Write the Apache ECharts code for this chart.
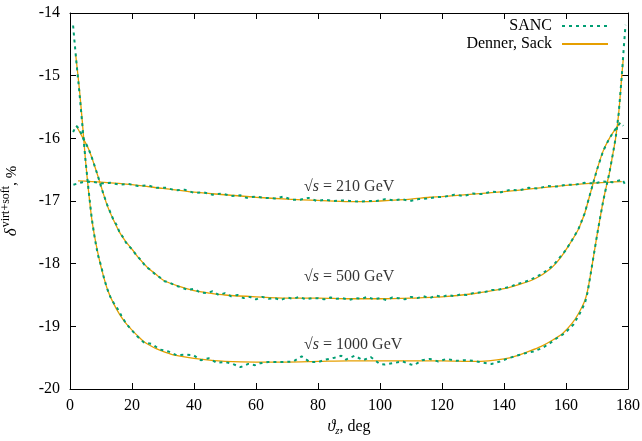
<!DOCTYPE html>
<html>
<head>
<meta charset="utf-8">
<script src="https://cdn.jsdelivr.net/npm/echarts@6/dist/echarts.min.js"></script>
<style>
  html, body { margin: 0; padding: 0; background: #fff; }
  #chart { width: 642px; height: 441px; }
</style>
</head>
<body>
<div id="chart"></div>
<script>
// angle (deg), delta (%) pairs
const denner210 = [[2.6,-16.68],[10,-16.7],[20,-16.74],[30,-16.8],[40,-16.86],[50,-16.9],[60,-16.94],[70,-16.97],[80,-16.99],[90,-17.01],[95,-17.01],[100,-17.0],[110,-16.97],[116,-16.94],[120,-16.93],[130,-16.89],[140,-16.85],[150,-16.8],[160,-16.75],[170,-16.71],[178,-16.69]];
const sanc210 = [[1.1,-16.74],[4,-16.7],[7,-16.69],[10,-16.72],[13,-16.71],[16,-16.74],[19,-16.73],[22,-16.76],[25,-16.75],[28,-16.79],[31,-16.79],[34,-16.83],[37,-16.82],[40,-16.87],[43,-16.86],[46,-16.9],[49,-16.88],[52,-16.92],[55,-16.91],[57,-16.95],[59.7,-16.93],[62.9,-16.95],[66.1,-16.96],[68.8,-16.93],[71.5,-16.98],[74.2,-16.98],[76.9,-16.95],[79.6,-17.0],[82.3,-16.98],[84.9,-17.0],[87.6,-16.99],[90.3,-17.0],[93,-17.01],[96.2,-17.0],[98.9,-17.0],[101.6,-16.97],[104.3,-16.99],[107,-16.97],[109.7,-17.0],[112.4,-16.97],[115.1,-16.96],[118,-16.94],[121,-16.93],[124,-16.9],[127,-16.92],[130,-16.88],[133,-16.89],[136,-16.85],[139,-16.86],[142,-16.82],[145,-16.83],[148,-16.79],[151,-16.8],[154,-16.76],[157,-16.77],[160,-16.74],[163,-16.74],[166,-16.71],[169,-16.72],[172,-16.69],[175,-16.7],[178.2,-16.66],[179,-16.73]];
const denner500 = [[2,-15.8],[4,-15.98],[6,-16.17],[8,-16.45],[10,-16.76],[12,-17.07],[14,-17.3],[16,-17.5],[18,-17.65],[20,-17.77],[22,-17.9],[25,-18.06],[28,-18.18],[30,-18.26],[35,-18.36],[40,-18.43],[45,-18.47],[50,-18.5],[60,-18.53],[70,-18.55],[80,-18.55],[90,-18.56],[100,-18.56],[110,-18.55],[120,-18.53],[130,-18.48],[140,-18.4],[145,-18.33],[150,-18.24],[155,-18.08],[158,-17.92],[161,-17.7],[164,-17.45],[166,-17.2],[168,-16.85],[170,-16.5],[172,-16.2],[174,-16.0],[176,-15.85],[177.5,-15.75]];
const sanc500 = [[1,-15.9],[2,-15.8],[3,-15.85],[4,-15.97],[5,-16.07],[6,-16.17],[7,-16.3],[8,-16.45],[9,-16.6],[10,-16.77],[11,-16.92],[12,-17.06],[13,-17.18],[14,-17.3],[15,-17.38],[16,-17.5],[17,-17.57],[18,-17.66],[19,-17.72],[20,-17.77],[21.5,-17.87],[23,-17.95],[24.5,-18.05],[26,-18.1],[27.5,-18.17],[29,-18.22],[30.5,-18.28],[32,-18.3],[34,-18.35],[36,-18.38],[38,-18.42],[40,-18.4],[42,-18.46],[44,-18.47],[46,-18.44],[48,-18.5],[50,-18.47],[52,-18.52],[54,-18.5],[56,-18.55],[58,-18.53],[60,-18.57],[62,-18.53],[64,-18.56],[66,-18.55],[68,-18.58],[70,-18.54],[72,-18.56],[74,-18.53],[76,-18.57],[78,-18.55],[80,-18.55],[82,-18.57],[84,-18.54],[86,-18.56],[88,-18.55],[90,-18.58],[92,-18.55],[94,-18.56],[96,-18.53],[98,-18.57],[100,-18.55],[102,-18.58],[104,-18.54],[106,-18.55],[108,-18.57],[110,-18.53],[112,-18.55],[114,-18.52],[116,-18.55],[118,-18.51],[120,-18.53],[122,-18.5],[124,-18.52],[126,-18.49],[128,-18.5],[130,-18.47],[132,-18.46],[134,-18.45],[136,-18.42],[138,-18.42],[140,-18.39],[142,-18.37],[144,-18.33],[146,-18.3],[148,-18.27],[150,-18.22],[152,-18.17],[154,-18.1],[156,-18.02],[158,-17.9],[160,-17.78],[162,-17.62],[164,-17.45],[166,-17.2],[168,-16.85],[170,-16.5],[172,-16.2],[174,-16.0],[176,-15.85],[177.5,-15.75],[178.5,-15.8]];
const denner1000 = [[1.8,-14.65],[3,-15.2],[4,-15.75],[5,-16.35],[6,-16.85],[7,-17.28],[8,-17.58],[9,-17.83],[10,-18.05],[12,-18.4],[14,-18.63],[16,-18.81],[18,-18.95],[20,-19.06],[22,-19.16],[24,-19.25],[26,-19.31],[28,-19.36],[30,-19.4],[33,-19.45],[36,-19.48],[40,-19.51],[45,-19.54],[50,-19.56],[60,-19.57],[70,-19.57],[80,-19.56],[90,-19.55],[100,-19.55],[110,-19.55],[120,-19.55],[130,-19.56],[135,-19.55],[140,-19.52],[144,-19.47],[148,-19.4],[152,-19.32],[156,-19.21],[159,-19.11],[162,-18.95],[164,-18.8],[166,-18.6],[167,-18.42],[168,-18.15],[169,-17.85],[170,-17.55],[171,-17.27],[172,-17.0],[173,-16.77],[174,-16.55],[175,-16.28],[176,-16.0],[177,-15.6],[178,-15.0],[178.5,-14.72]];
const sanc1000 = [[1,-14.2],[1.5,-14.48],[2,-14.75],[3,-15.25],[4,-15.8],[5,-16.35],[6,-16.83],[7,-17.27],[8,-17.6],[9,-17.86],[10,-18.03],[11,-18.24],[12,-18.4],[13,-18.53],[14,-18.62],[15,-18.69],[16.6,-18.83],[18,-18.95],[19.9,-19.06],[21.7,-19.16],[23.9,-19.26],[26.3,-19.28],[29,-19.37],[31.7,-19.4],[34.4,-19.46],[37.1,-19.45],[39.8,-19.46],[42.2,-19.54],[44.8,-19.51],[47.3,-19.58],[50,-19.57],[52.5,-19.6],[55,-19.65],[57.5,-19.6],[59.7,-19.62],[61.3,-19.59],[64,-19.57],[66.6,-19.57],[69.3,-19.57],[72,-19.56],[74.7,-19.48],[77.4,-19.57],[80,-19.57],[82.6,-19.53],[85.3,-19.5],[87.5,-19.47],[89,-19.53],[91.8,-19.47],[94.5,-19.54],[97,-19.49],[99.9,-19.6],[101.5,-19.61],[104,-19.59],[107.3,-19.56],[110,-19.61],[111,-19.62],[113.6,-19.54],[116.1,-19.52],[118.8,-19.56],[121.5,-19.52],[124.7,-19.55],[127.4,-19.54],[130,-19.55],[133.3,-19.58],[136,-19.6],[138.7,-19.56],[141.4,-19.51],[144,-19.47],[146.8,-19.43],[149.5,-19.4],[152.2,-19.35],[154.8,-19.27],[157,-19.19],[159.6,-19.11],[162.4,-18.97],[164.5,-18.79],[166.1,-18.63],[167,-18.45],[168,-18.15],[169,-17.85],[170,-17.55],[171,-17.27],[172,-17.0],[173,-16.77],[174,-16.55],[175,-16.28],[176,-16.0],[177,-15.6],[178,-15.0],[178.5,-14.65],[178.8,-14.45],[179.2,-14.19]];

// annotation texts and where they sit (deg, %)
const noteTexts = ['{r|√}{i|s}{n| = 210 GeV}', '{r|√}{i|s}{n| = 500 GeV}', '{r|√}{i|s}{n| = 1000 GeV}'];
const notePos = [[75.5, -16.78], [75.5, -18.21], [75.5, -19.3]];

const font = '"Liberation Serif", "DejaVu Serif", serif';
const green = '#009e73';
const orange = '#e69f00';

const chart = echarts.init(document.getElementById('chart'));

const xBase = {
  type: 'value', min: 0, max: 180, interval: 20,
  axisLine: { show: true, onZero: false, lineStyle: { color: '#000', width: 1 } },
  axisTick: { show: true, inside: true, length: 6, lineStyle: { color: '#000' } },
  splitLine: { show: false }
};
const yBase = {
  type: 'value', min: -20, max: -14, interval: 1,
  axisLine: { show: true, onZero: false, lineStyle: { color: '#000', width: 1 } },
  axisTick: { show: true, inside: true, length: 6, lineStyle: { color: '#000' } },
  splitLine: { show: false }
};

const option = {
  animation: false,
  backgroundColor: '#fff',
  textStyle: { fontFamily: font },
  grid: { left: 70, right: 14, top: 13, bottom: 52, containLabel: false, outerBoundsMode: 'none' },
  legend: {
    orient: 'vertical', align: 'right', right: 33, top: 18, padding: 0,
    itemWidth: 46, itemHeight: 14, itemGap: 2,
    data: ['SANC', 'Denner, Sack'],
    itemStyle: { opacity: 0 },
    textStyle: { fontFamily: font, fontSize: 16, color: '#000', padding: [0, 5, 0, 0] }
  },
  xAxis: [
    Object.assign({}, xBase, {
      position: 'bottom',
      axisLabel: { margin: 9, color: '#000', fontFamily: font, fontSize: 16 },
      name: '{t|ϑ}{s|z}{n|, deg}', nameLocation: 'middle', nameGap: 27,
      nameTextStyle: {
        rich: {
          t: { fontFamily: font, fontSize: 16, fontStyle: 'italic', color: '#000' },
          s: { fontFamily: font, fontSize: 11, fontStyle: 'italic', color: '#000', padding: [8, 0, 0, 0] },
          n: { fontFamily: font, fontSize: 16, color: '#000' }
        }
      }
    }),
    Object.assign({}, xBase, { position: 'top', axisLabel: { show: false } })
  ],
  yAxis: [
    Object.assign({}, yBase, {
      position: 'left',
      axisLabel: { margin: 10, color: '#000', fontFamily: font, fontSize: 16 },
      name: '{d|δ}{p|virt+soft}{n|, %}', nameLocation: 'middle', nameGap: 46, nameRotate: 90,
      nameTextStyle: {
        rich: {
          d: { fontFamily: font, fontSize: 17, fontStyle: 'italic', color: '#000' },
          p: { fontFamily: font, fontSize: 12, color: '#000', padding: [0, 0, 12, 1] },
          n: { fontFamily: font, fontSize: 15, color: '#000' }
        }
      }
    }),
    Object.assign({}, yBase, { position: 'right', axisLabel: { show: false } })
  ],
  series: [
    { name: 'SANC', type: 'line', data: sanc210, symbol: 'none', z: 3,
      lineStyle: { color: green, width: 2, type: [3, 4] }, itemStyle: { color: green } },
    { name: 'Denner, Sack', type: 'line', data: denner210, symbol: 'none', smooth: 0.3, z: 2,
      lineStyle: { color: orange, width: 1.3 }, itemStyle: { color: orange } },
    { name: 'SANC', type: 'line', data: sanc500, symbol: 'none', z: 3,
      lineStyle: { color: green, width: 2, type: [3, 4] } },
    { name: 'Denner, Sack', type: 'line', data: denner500, symbol: 'none', smooth: 0.3, z: 2,
      lineStyle: { color: orange, width: 1.3 } },
    { name: 'SANC', type: 'line', data: sanc1000, symbol: 'none', z: 3,
      lineStyle: { color: green, width: 2, type: [3, 4] } },
    { name: 'Denner, Sack', type: 'line', data: denner1000, symbol: 'none', smooth: 0.3, z: 2,
      lineStyle: { color: orange, width: 1.3 } },
    { name: 'notes', type: 'scatter', symbolSize: 0, silent: true, z: 5,
      data: notePos.map((p, i) => ({ value: p, label: { formatter: noteTexts[i] } })),
      label: {
        show: true, position: 'right', distance: 0,
        rich: {
          r: { fontFamily: font, fontSize: 16, color: '#000' },
          i: { fontFamily: font, fontSize: 16, fontStyle: 'italic', color: '#000' },
          n: { fontFamily: font, fontSize: 16, color: '#000' }
        }
      }
    }
  ]
};

chart.setOption(option);
</script>
</body>
</html>
